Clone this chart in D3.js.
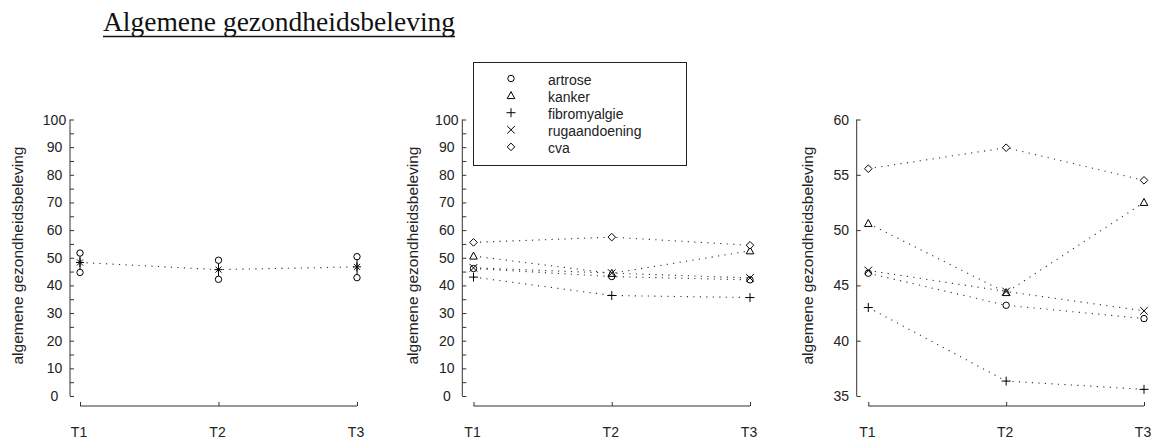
<!DOCTYPE html>
<html>
<head>
<meta charset="utf-8">
<script src="https://cdn.jsdelivr.net/npm/d3@7"></script>
<style>
  body { margin: 0; background: #fff; }
  text { font-family: "Liberation Sans", Arial, sans-serif; fill: #222; }
</style>
</head>
<body>
<svg class="chart" width="1165" height="441"></svg>
<script>
// time points and groups
const times = ["T1", "T2", "T3"];
const groups = ["artrose", "kanker", "fibromyalgie", "rugaandoening", "cva"];

// group means per time point
const artrose = [46.1, 43.2, 42.0];
const kanker = [50.6, 44.35, 52.5];
const fibromyalgie = [43.0, 36.35, 35.6];
const rugaandoening = [46.35, 44.45, 42.7];
const cva = [55.55, 57.45, 54.5];

// whole sample: mean with upper / lower bound
const totalMean = [48.3, 45.7, 46.7];
const totalUpper = [51.7, 49.1, 50.4];
const totalLower = [44.7, 42.2, 42.8];

const seriesValues = [artrose, kanker, fibromyalgie, rugaandoening, cva];
const markers = ["circle", "triangle", "plus", "cross", "diamond"];

const svg = d3.select("svg.chart");

// marker shapes (line drawn, like the old plot symbols)
function marker(g, type, x, y) {
  const m = g.append("g").attr("transform", `translate(${x},${y})`)
    .attr("fill", "none").attr("stroke", "#000").attr("stroke-width", 1);
  if (type === "circle") m.append("circle").attr("r", 3.2).attr("fill", "#fff");
  if (type === "triangle") m.append("path").attr("d", "M0,-4L3.8,3L-3.8,3Z").attr("fill", "#fff");
  if (type === "plus") m.append("path").attr("d", "M-4.5,0H4.5M0,-4.5V4.5");
  if (type === "cross") m.append("path").attr("d", "M-3.8,-3.8L3.8,3.8M-3.8,3.8L3.8,-3.8");
  if (type === "diamond") m.append("path").attr("d", "M0,-3.8L3.8,0L0,3.8L-3.8,0Z").attr("fill", "#fff");
  if (type === "star") m.append("path").attr("d", "M-4,0H4M0,-4.5V4.5M-3,-3L3,3M-3,3L3,-3");
}

function panel(opt) {
  const g = svg.append("g");
  const y = d3.scaleLinear().domain(opt.domain).range([396, 119.5]);
  const x = d3.scalePoint().domain(times).range([opt.x0, opt.x1]);

  // y axis, ticks pointing inward
  const yAxis = d3.axisRight(y).tickValues(opt.minor).tickSize(4).tickFormat("");
  const ya = g.append("g").attr("transform", `translate(${opt.ax},0)`).call(yAxis);
  ya.select(".domain").attr("d", `M0,${y.range()[1]}V${y.range()[0]}`);
  ya.selectAll("line, path").attr("stroke", "#333");
  g.append("g").selectAll("text").data(opt.major).join("text")
    .attr("x", opt.ax - 15.5).attr("y", d => y(d)).attr("dy", "0.36em")
    .attr("text-anchor", "middle").attr("font-size", 14).text(d => d);

  // x axis, offset below
  const xAxis = d3.axisTop(x).tickSize(4).tickFormat("");
  const xa = g.append("g").attr("transform", "translate(0,406)").call(xAxis);
  xa.select(".domain").attr("d", `M${opt.x0},0H${opt.x1}`);
  xa.selectAll("line, path").attr("stroke", "#333");
  g.append("g").selectAll("text").data(times).join("text")
    .attr("x", d => x(d) - 1).attr("y", 432).attr("dy", "0.36em")
    .attr("text-anchor", "middle").attr("font-size", 14).text(d => d);

  // y label
  g.append("text")
    .attr("transform", `translate(${opt.lx},255.5) rotate(-90)`)
    .attr("text-anchor", "middle").attr("dy", "0.36em").attr("font-size", 14)
    .attr("textLength", 218).attr("lengthAdjust", "spacingAndGlyphs")
    .text("algemene gezondheidsbeleving");

  return {g, x, y};
}

const line = (x, y) => d3.line().x((d, i) => x(times[i])).y(d => y(d));

function dotted(g, vals, x, y) {
  g.append("path").datum(vals).attr("d", line(x, y))
    .attr("fill", "none").attr("stroke", "#333").attr("stroke-width", 1.1)
    .attr("stroke-dasharray", "1.2,5.3");
}

const ticks100 = d3.range(0, 101, 10);
const minor100 = d3.range(0, 101, 5);

// left panel: whole sample
const p1 = panel({x0: 80, x1: 357, ax: 70, lx: 18, domain: [0, 100], major: ticks100, minor: minor100});
dotted(p1.g, totalMean, p1.x, p1.y);
times.forEach((t, i) => {
  p1.g.append("line").attr("x1", p1.x(t)).attr("x2", p1.x(t))
    .attr("y1", p1.y(totalUpper[i])).attr("y2", p1.y(totalLower[i]))
    .attr("stroke", "#000");
  marker(p1.g, "circle", p1.x(t), p1.y(totalUpper[i]));
  marker(p1.g, "circle", p1.x(t), p1.y(totalLower[i]));
  marker(p1.g, "star", p1.x(t), p1.y(totalMean[i]));
});

// middle panel: groups on 0-100 scale
const p2 = panel({x0: 473.5, x1: 750, ax: 462.3, lx: 413.3, domain: [0, 100], major: ticks100, minor: minor100});
// right panel: groups zoomed
const ticks35 = d3.range(35, 61, 5);
const p3 = panel({x0: 868.3, x1: 1144, ax: 856.7, lx: 808.3, domain: [35, 60], major: ticks35, minor: ticks35});

[p2, p3].forEach(p => {
  seriesValues.forEach(vals => dotted(p.g, vals, p.x, p.y));
  seriesValues.forEach((vals, k) => {
    vals.forEach((v, i) => marker(p.g, markers[k], p.x(times[i]), p.y(v)));
  });
});

// legend
const leg = svg.append("g");
leg.append("rect").attr("x", 473.5).attr("y", 62.5).attr("width", 213).attr("height", 103)
  .attr("fill", "#fff").attr("stroke", "#222");
groups.forEach((name, k) => {
  const ly = 80 + k * 17.1;
  marker(leg, markers[k], 511, ly - 1.5);
  leg.append("text").attr("x", 548).attr("y", ly).attr("dy", "0.36em")
    .attr("font-size", 14).text(name);
});

// title
const title = svg.append("text").attr("x", 103).attr("y", 31)
  .style("font-family", "'Liberation Serif', 'Times New Roman', serif")
  .attr("font-size", 27.5).style("fill", "#111")
  .text("Algemene gezondheidsbeleving");
const tw = title.node().getComputedTextLength();
svg.append("line").attr("x1", 103).attr("x2", 103 + tw).attr("y1", 36.5).attr("y2", 36.5)
  .attr("stroke", "#111").attr("stroke-width", 1.6);
</script>
</body>
</html>
